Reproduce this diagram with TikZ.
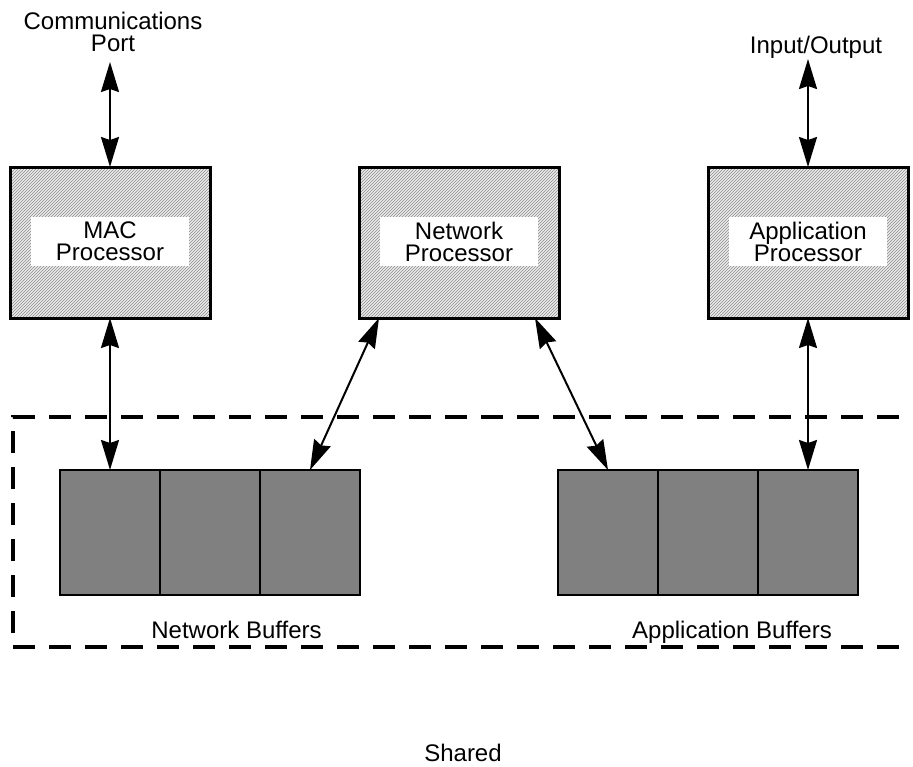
\documentclass[tikz,border=0pt]{standalone}
\usepackage{fontspec}
\setmainfont{Liberation Sans}
\usetikzlibrary{arrows.meta,patterns,calc}
\begin{document}
\begin{tikzpicture}[x=1pt,y=-1pt,
  every node/.style={font=\fontsize{24pt}{22pt}\selectfont},
  proc/.style={draw, line width=3pt, minimum width=200pt, minimum height=151pt,
    outer sep=0pt, inner sep=0pt, preaction={fill=black!8},
    pattern=north east lines, pattern color=black!45},
  lab/.style={fill=white, minimum width=158pt, minimum height=49pt, inner sep=0pt, align=center},
  buf/.style={draw, line width=2.5pt, fill=black!50, minimum width=100pt,
    minimum height=125pt, outer sep=0pt, inner sep=0pt},
  con/.style={line width=2pt, {Stealth[length=30pt,width=18pt,inset=3pt]}-{Stealth[length=30pt,width=18pt,inset=3pt]}},
  region/.style={line width=3.3pt, dash pattern=on 22pt off 14pt},
  txt/.style={inner sep=0pt, align=center}]
\clip (0,0) rectangle (913,766);
\fill[white] (0,0) rectangle (913,766);

% shared region
\coordinate (dtr) at (935,417);
\coordinate (dtl) at (13,417);
\coordinate (dbl) at (13,647);
\coordinate (dbr) at (935,647);
\draw[region] (dtr) -- (dtl) -- (dbl) -- (dbr);

% processors
\node[proc] (mac) at (110,242.5) {};
\node[proc] (net) at (459,242.5) {};
\node[proc] (app) at (808,242.5) {};
\node[lab] (macl) at (110,241.5) {MAC\\Processor};
\node[lab] (netl) at (459,241.5) {Network\\Processor};
\node[lab] (appl) at (808,241.5) {Application\\Processor};

% buffers
\node[buf] (nb1) at (110,532.5) {};
\node[buf] (nb2) at (210,532.5) {};
\node[buf] (nb3) at (310,532.5) {};
\node[buf] (ab1) at (608,532.5) {};
\node[buf] (ab2) at (708,532.5) {};
\node[buf] (ab3) at (808,532.5) {};

% texts
\node[txt] (comm) at (113,31.5) {Communications\\Port};
\node[txt, anchor=base] (io) at (816,53) {Input/Output};
\node[txt, anchor=base] (nbt) at (236.5,638) {Network Buffers};
\node[txt, anchor=base] (abt) at (732,638) {Application Buffers};
\node[txt, anchor=base] (shared) at (463,761.5) {Shared};

\coordinate (commend) at (110,62);
\coordinate (ioend) at (808,59);

% connectors
\draw[con] (commend) -- (mac.north);
\draw[con] (ioend) -- (app.north);
\draw[con] (mac.south) -- (nb1.north);
\draw[con] ($(net.south west)!0.1!(net.south east)$) -- (nb3.north);
\draw[con] ($(net.south west)!0.88!(net.south east)$) -- (ab1.north);
\draw[con] (app.south) -- (ab3.north);
\end{tikzpicture}
\end{document}
